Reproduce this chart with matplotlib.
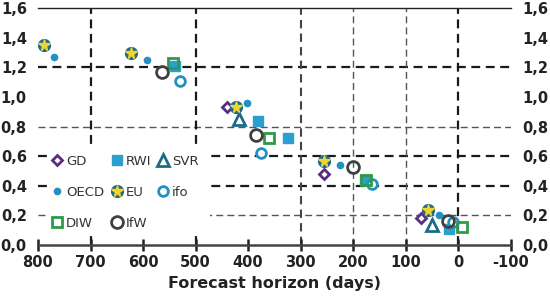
import numpy as np
import matplotlib.pyplot as plt
from matplotlib.legend_handler import HandlerTuple
from matplotlib.patches import Rectangle

plt.rcParams['font.family'] = ['Liberation Sans Narrow', 'DejaVu Sans']

# forecast horizon (days) and error values
gd_x = [440, 255, 72]
gd_y = [0.93, 0.48, 0.18]
rwi_x = [539, 381, 325, 178, 18]
rwi_y = [1.21, 0.84, 0.72, 0.44, 0.11]
svr_x = [417, 51]
svr_y = [0.85, 0.135]
oecd_x = [769, 592, 403, 226, 37]
oecd_y = [1.27, 1.25, 0.96, 0.54, 0.20]
eu_x = [788, 623, 423, 256, 57]
eu_y = [1.35, 1.30, 0.93, 0.57, 0.235]
ifo_x = [529, 375, 164, 11]
ifo_y = [1.11, 0.62, 0.41, 0.155]
diw_x = [543, 360, 175, -6]
diw_y = [1.23, 0.72, 0.44, 0.12]
ifw_x = [564, 386, 201, 20]
ifw_y = [1.17, 0.74, 0.525, 0.165]

yticks = [0.0, 0.2, 0.4, 0.6, 0.8, 1.0, 1.2, 1.4, 1.6]
xticks = [800, 700, 600, 500, 400, 300, 200, 100, 0, -100]

purple = '#5b2c83'
blue = '#2a9fd0'
teal = '#1d6a8a'
dotblue = '#2390bf'
yellow = '#f2d431'
green = '#2e9a47'
grey = '#404040'

fig = plt.figure(figsize=(5.5, 3.01), dpi=100)
ax = fig.add_axes([0.069, 0.186, 0.86, 0.787])
ax.set_xlim(800, -100)
ax.set_ylim(0, 1.6)

# dashed grid, some lines heavier than others
heavy = dict(color='#1a1a1a', lw=1.6, dashes=(4, 2.5), zorder=1)
light = dict(color='#555555', lw=1.0, dashes=(5, 3), zorder=1)
for y in [1.2, 0.6, 0.4]:
    ax.axhline(y, **heavy)
for y in [0.8, 0.2]:
    ax.axhline(y, **light)
for x in [700, 500, 0]:
    ax.axvline(x, **heavy)
ax.axvline(300, color='#444444', lw=1.5, dashes=(4, 2.5), zorder=1)
for x in [200, 100]:
    ax.axvline(x, **light)

# white box behind legend
ax.add_patch(Rectangle((0.021, 0.038), 0.343, 0.385, transform=ax.transAxes,
                       facecolor='white', edgecolor='none', zorder=2))

gd, = ax.plot(gd_x, gd_y, ls='none', marker='D', ms=5.5, mfc='white', mec=purple, mew=2, zorder=5)
rwi, = ax.plot(rwi_x, rwi_y, ls='none', marker='s', ms=7, mfc=blue, mec=blue, zorder=4)
svr, = ax.plot(svr_x, svr_y, ls='none', marker='^', ms=8, mfc='white', mec=teal, mew=2, zorder=5)
oecd, = ax.plot(oecd_x, oecd_y, ls='none', marker='o', ms=4.5, mfc=dotblue, mec=dotblue, zorder=5)
eu_c, = ax.plot(eu_x, eu_y, ls='none', marker='o', ms=8.5, mfc=teal, mec=teal, zorder=6)
eu_s, = ax.plot(eu_x, eu_y, ls='none', marker='*', ms=8.5, mfc=yellow, mec=yellow, zorder=7)
ifo, = ax.plot(ifo_x, ifo_y, ls='none', marker='o', ms=7, mfc='white', mec=dotblue, mew=2, zorder=4)
diw, = ax.plot(diw_x, diw_y, ls='none', marker='s', ms=7, mfc='none', mec=green, mew=2, zorder=5)
ifw, = ax.plot(ifw_x, ifw_y, ls='none', marker='o', ms=8.5, mfc='none', mec=grey, mew=2, zorder=5)

leg = ax.legend([gd, oecd, diw, rwi, (eu_c, eu_s), ifw, svr, ifo],
                ['GD', 'OECD', 'DIW', 'RWI', 'EU', 'IfW', 'SVR', 'ifo'],
                handler_map={tuple: HandlerTuple(ndivide=1, pad=0)},
                ncol=3, frameon=False, loc='lower left',
                bbox_to_anchor=(0.005, 0.015), fontsize=9.5, handlelength=0.8,
                handletextpad=0.25, columnspacing=0.55, labelspacing=1.35,
                borderpad=0.4, labelcolor='#333333')
leg.set_zorder(8)

for s in ['left', 'right']:
    ax.spines[s].set_visible(False)
ax.spines['top'].set_color('#222222')
ax.spines['top'].set_linewidth(1.0)
ax.spines['bottom'].set_color('#444444')
ax.spines['bottom'].set_linewidth(1.8)

ax.set_xticks(xticks)
ax.set_xticklabels([str(v) for v in xticks])
ax.set_yticks(yticks)
ax.set_yticklabels([f'{v:.1f}'.replace('.', ',') for v in yticks])
ax.tick_params(axis='x', direction='inout', length=8, width=1.8, color='#222222',
               labelsize=10.5, pad=3)
ax.tick_params(axis='y', length=0, labelleft=True, labelright=True,
               labelsize=10.5, pad=8)
for lab in ax.get_xticklabels() + ax.get_yticklabels():
    lab.set_fontweight('bold')
    lab.set_color('#222222')

ax.set_xlabel('Forecast horizon (days)', fontsize=11.5, fontweight='bold',
              color='#222222')
ax.xaxis.set_label_coords(0.5, -0.13)

fig.savefig('out.png', dpi=100)
